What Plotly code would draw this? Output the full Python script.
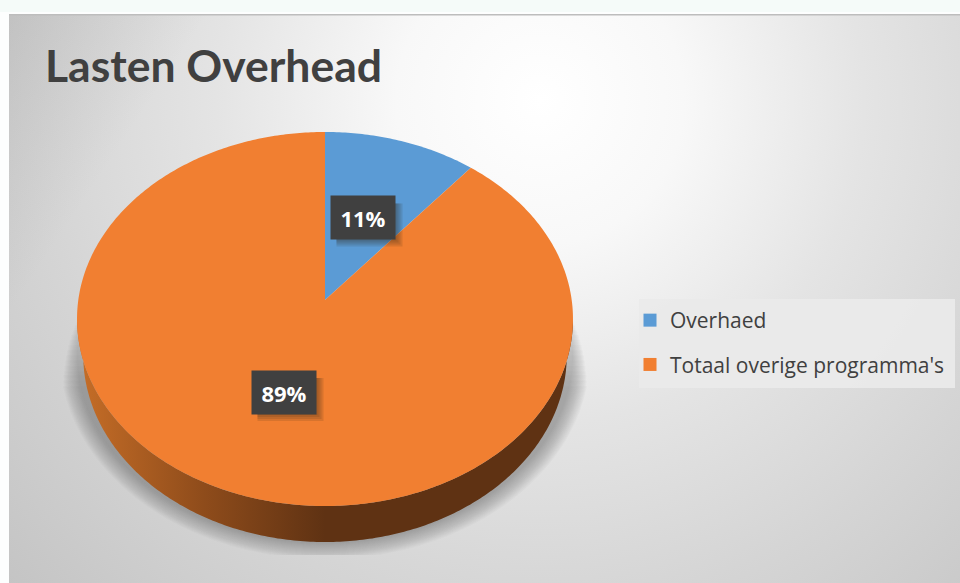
import base64
import numpy as np
import plotly.graph_objects as go

# ---- data ----
TITLE = "Lasten Overhead"
categories = ["Overhaed", "Totaal overige programma's"]
shares = [11, 89]
slice_colors = ["#5b9bd5", "#f17f31"]

# ---- pie geometry (screen-pixel axes, tilted disc via a projective map) ----
CX, S, K, APEX_Y, A = 325.0, 246.7, 0.1016, 300.0, -154.6
DEPTH = 36.0
BOTTOM_SCALE = 0.975


def disc(theta, radius=1.0):
    u, v = radius * np.sin(theta), radius * np.cos(theta)
    d = 1 + K * v
    return CX + S * u / d, (APEX_Y + A * v) / d


def slice_xy(start, stop):
    t = np.linspace(start, stop, max(int((stop - start) * 80), 8))
    x, y = disc(t)
    return np.r_[CX, x, CX], np.r_[APEX_Y, y, APEX_Y]


# ---- panel background (gradient image only) ----
svg = """<svg xmlns='http://www.w3.org/2000/svg' width='960' height='583'>
<defs><radialGradient id='g' gradientUnits='userSpaceOnUse' cx='540' cy='100' r='720'>
<stop offset='0' stop-color='#ffffff'/><stop offset='0.2' stop-color='#f8f8f8'/>
<stop offset='0.45' stop-color='#e4e4e4'/><stop offset='0.7' stop-color='#d5d5d5'/>
<stop offset='1' stop-color='#c4c4c4'/></radialGradient>
<linearGradient id='l' x1='0' x2='1' y1='0' y2='1'>
<stop offset='0' stop-color='#808080' stop-opacity='0.2'/>
<stop offset='0.5' stop-color='#808080' stop-opacity='0'/></linearGradient></defs>
<rect width='960' height='583' fill='#fdfefe'/>
<rect x='0' y='0' width='960' height='12' fill='#f5fbf9'/>
<rect x='9' y='14' width='951' height='569' fill='url(#g)'/>
<rect x='9' y='14' width='200' height='300' fill='url(#l)'/>
<rect x='9' y='14' width='951' height='1.5' fill='#bdbdbd'/>
</svg>"""
bg_uri = "data:image/svg+xml;base64," + base64.b64encode(svg.encode()).decode()

fig = go.Figure()

# soft shadow below the disc: stacked translucent layers, cut off like the reference
full = np.linspace(0, 2 * np.pi, 721)
SHADOW_BOTTOM = 555.0
for grow in np.arange(17, -1, -1.0):
    x, y = disc(full)
    sx = CX + (x - CX) * (1 + grow / 248)
    sy = np.minimum(319 + DEPTH + (y - 319) * (1 + grow / 187), SHADOW_BOTTOM)
    keep = sy > 300 + grow * 5
    fig.add_trace(go.Scatter(
        x=sx[keep], y=sy[keep], mode="none", fill="toself",
        fillcolor="rgba(90,90,90,0.03)", hoverinfo="skip", showlegend=False))

# side wall with its shading
t_wall = np.linspace(np.pi / 2 + 0.1, 3 * np.pi / 2 - 0.1, 240)
xt, yt = disc(t_wall)
xb = CX + (xt - CX) * BOTTOM_SCALE
yb = yt + DEPTH
fig.add_trace(go.Scatter(
    x=np.r_[xt, xb[::-1]], y=np.r_[yt, yb[::-1]], mode="none", fill="toself",
    fillgradient=dict(type="horizontal", start=80, stop=570,
                      colorscale=[[0, "#c56d27"], [0.25, "#8f4c1b"], [0.5, "#5f3213"], [1, "#5f3213"]]),
    hoverinfo="skip", showlegend=False))

# slices, clockwise from 12 o'clock
edges = 2 * np.pi * np.cumsum([0] + shares) / sum(shares)
for i, (name, col) in enumerate(zip(categories, slice_colors)):
    x, y = slice_xy(edges[i], edges[i + 1])
    fig.add_trace(go.Scatter(
        x=x, y=y, mode="none", fill="toself", fillcolor=col,
        name=name, hoverinfo="name", showlegend=False))

# legend entries (small squares)
for name, col in zip(categories, slice_colors):
    fig.add_trace(go.Scatter(
        x=[None], y=[None], mode="markers", name=name, legendgroup=name,
        marker=dict(symbol="square", size=13, color=col)))

# legend backing panel
fig.add_shape(type="rect", x0=639, x1=955, y0=299, y1=388,
              fillcolor="rgba(234,234,234,0.95)", line_width=0, layer="between")

# data labels
label_boxes = [(362.5, 217.5), (283.5, 392)]
for (lx, ly), val in zip(label_boxes, shares):
    for off in [9, 7, 5, 3]:
        fig.add_shape(type="rect", x0=lx - 26, x1=lx + 31 + off, y0=ly - 14, y1=ly + 20 + off,
                      fillcolor="rgba(50,35,20,0.13)", line_width=0, layer="above")
    fig.add_annotation(x=lx, y=ly, text=f"<b>{val}%</b>", showarrow=False,
                       width=62, height=41, bgcolor="#404040",
                       font=dict(family="Open Sans", size=22, color="#ffffff"))

fig.update_layout(
    width=960, height=583, margin=dict(l=0, r=0, t=0, b=0),
    paper_bgcolor="#ffffff", plot_bgcolor="rgba(0,0,0,0)",
    xaxis=dict(range=[0, 960], visible=False, fixedrange=True),
    yaxis=dict(range=[583, 0], visible=False, fixedrange=True),
    images=[dict(source=bg_uri, xref="x", yref="y", x=0, y=0, sizex=960, sizey=583,
                 xanchor="left", yanchor="top", sizing="stretch", layer="below")],
    title=dict(text=f"<b>{TITLE}</b>", x=45 / 960, xanchor="left", y=1 - 66 / 583, yanchor="middle",
               font=dict(family="Lato", size=44.5, color="#404040")),
    legend=dict(x=630 / 960, xanchor="left", y=1 - 300 / 583, yanchor="top",
                bgcolor="rgba(0,0,0,0)", tracegroupgap=14,
                font=dict(family="Open Sans", size=21, color="#404040")),
    showlegend=True,
)

fig.write_html("out.html", config={"displayModeBar": False},
               post_script="document.body.style.margin='0';")
